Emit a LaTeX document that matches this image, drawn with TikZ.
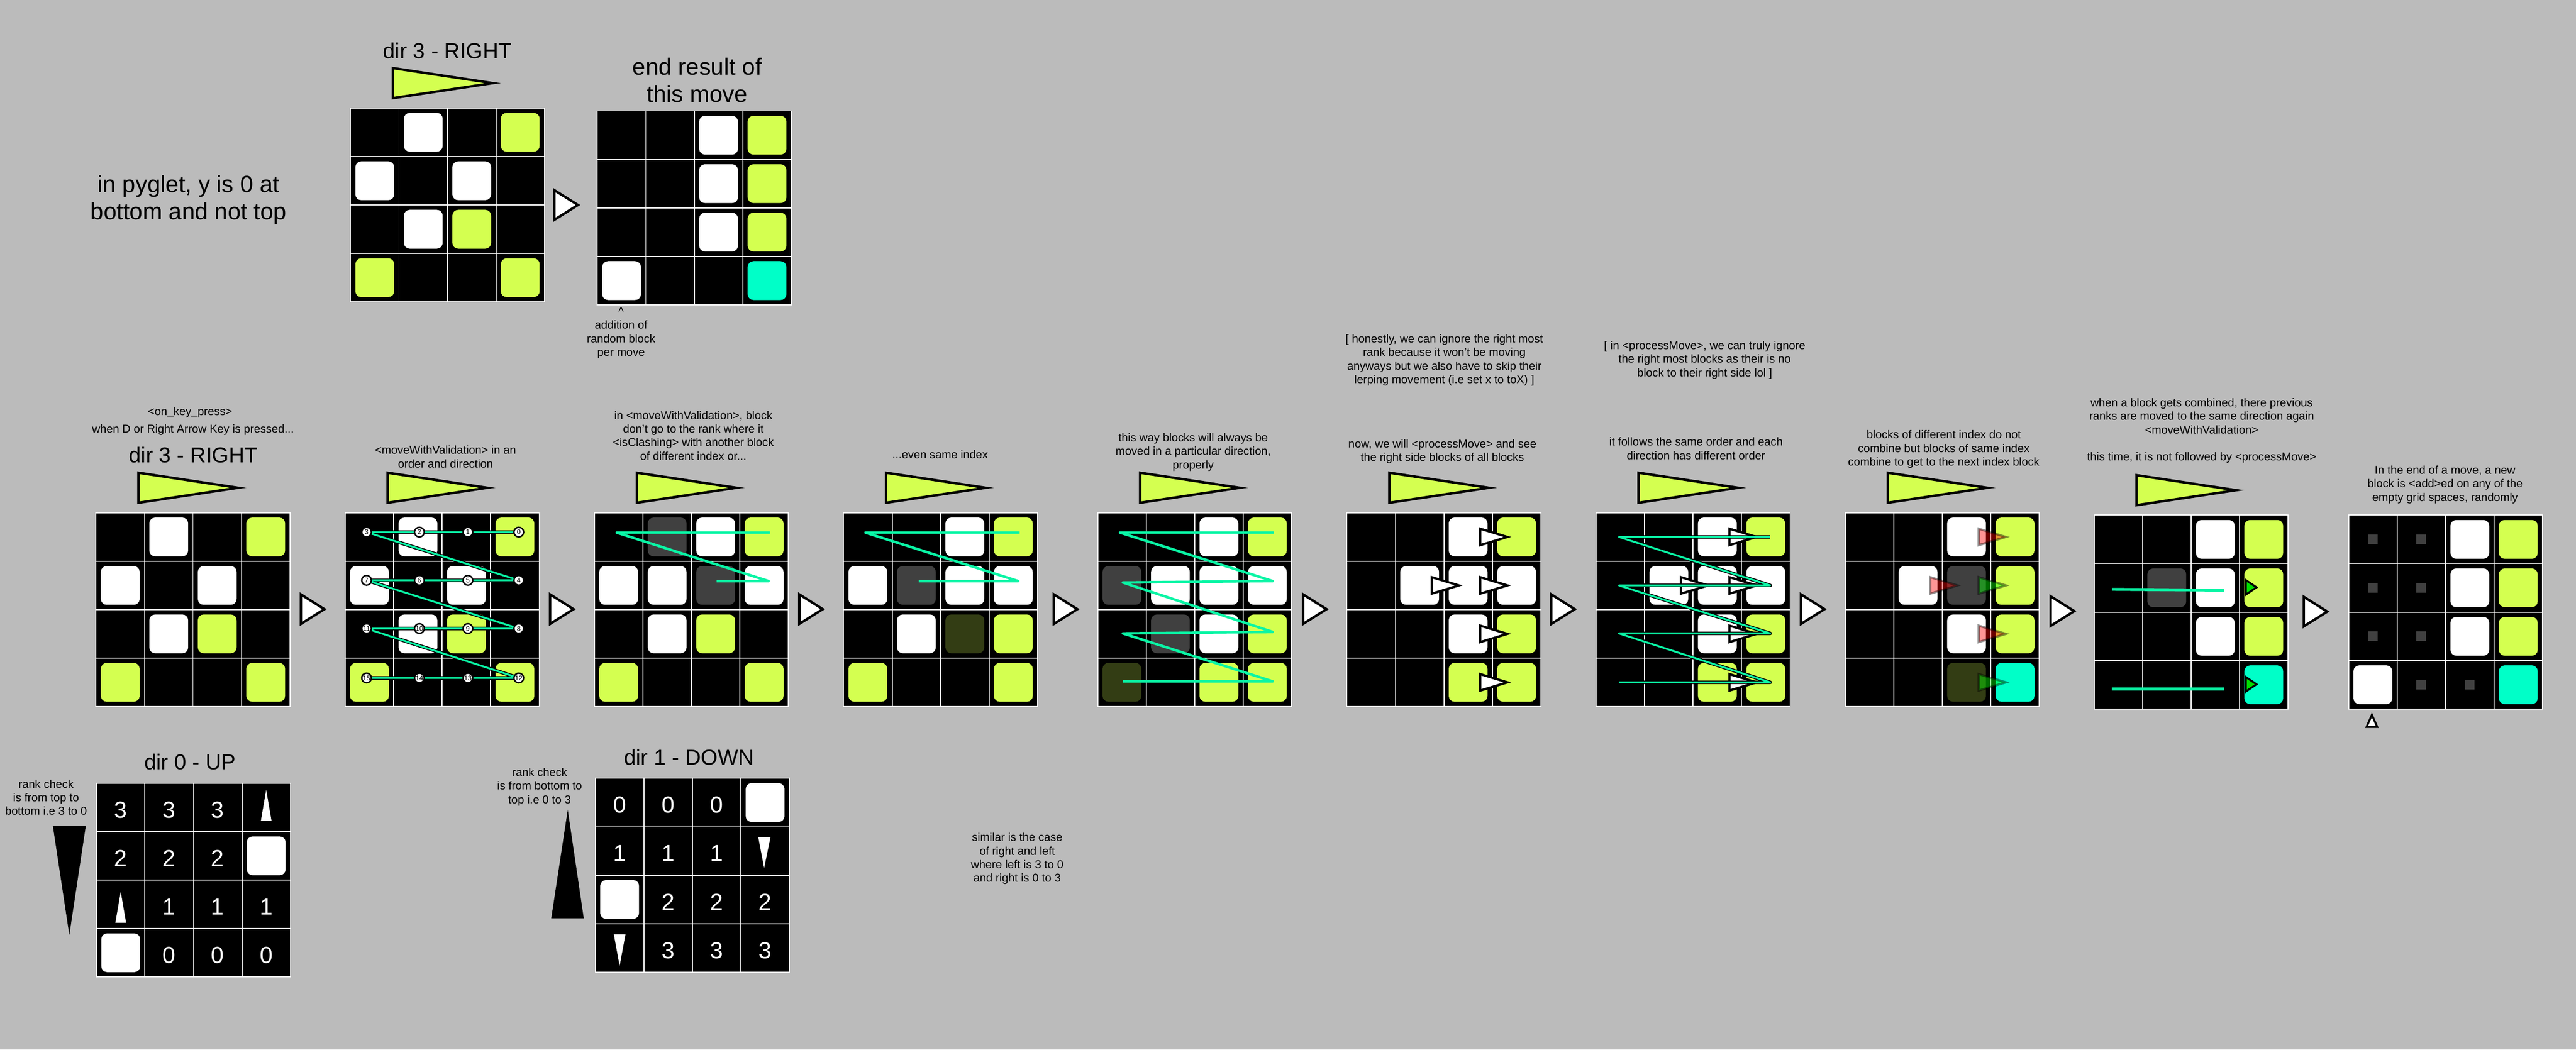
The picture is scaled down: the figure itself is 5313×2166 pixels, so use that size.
\documentclass[tikz,border=0pt]{standalone}
\usepackage{fontspec}
\setmainfont{Liberation Sans}
\definecolor{bgc}{RGB}{187,187,187}
\definecolor{limeB}{RGB}{212,255,80}
\definecolor{cyanB}{RGB}{0,255,200}
\definecolor{dgrayB}{RGB}{64,64,64}
\definecolor{oliveB}{RGB}{51,61,20}
\definecolor{grnL}{RGB}{10,245,165}
\definecolor{tgreen}{RGB}{0,220,0}
\tikzset{
  gridline/.style={draw=white, line width=1pt},
  limetri/.style={fill=limeB, draw=black, line width=2.5pt, line join=miter, miter limit=20},
  stepar/.style={fill=white, draw=black, line width=2.5pt, line join=miter},
  movear/.style={fill=white, draw=black, line width=2.3pt, line join=miter},
  redar/.style={fill=red, draw=black, line width=2.3pt, line join=miter, opacity=0.42},
  grnar/.style={fill=green, draw=black, line width=2.3pt, line join=miter, opacity=0.42},
  pathplain/.style={draw=grnL, line width=2.6pt, line join=round},
  pathouter/.style={draw=black, line width=3.6pt, line join=round},
  pathinner/.style={draw=grnL, line width=1.9pt, line join=round},
  numc/.style={circle, fill=white, draw=black, line width=1.5pt, inner sep=0pt, minimum size=10pt, font=\fontsize{7}{8}\selectfont},
  smallt/.style={inner sep=0pt, anchor=base, font=\fontsize{11.75}{14}\selectfont},
  bigt/.style={inner sep=0pt, anchor=base, font=\fontsize{22.35}{28}\selectfont},
  biggert/.style={inner sep=0pt, anchor=base, font=\fontsize{24.25}{28}\selectfont},
  digitt/.style={inner sep=0pt, text=white, font=\fontsize{24}{28}\selectfont},
  tgtri/.style={fill=tgreen, draw=black, line width=2pt, line join=miter},
  thintri/.style={fill=white},
  tallblack/.style={fill=black},
  markersq/.style={fill=dgrayB},
}
\newcommand\ml[1]{\begin{tabular}[t]{@{}c@{}}#1\end{tabular}}
\newcommand\gridbox[2]{%
  \fill[black] (#1,#2) rectangle ++(400,400);
  \foreach \k in {100,200,300}{\draw[gridline] ({#1+\k},#2) -- ++(0,400); \draw[gridline] (#1,{#2+\k}) -- ++(400,0);}
  \draw[gridline] (#1,#2) rectangle ++(400,400);}
\newcommand\blocks[3]{\foreach \bc/\br/\bcl in {#3}{\fill[fill=\bcl, rounded corners=6pt] ({#1+100*\bc+10},{#2+100*\br+10}) rectangle ++(80,80);}}
\newcommand\limeTri[2]{\draw[limetri] ({#1+87.5},{#2-82.5}) -- ({#1+87.5},{#2-20.5}) -- ({#1+293},{#2-51.5}) -- cycle;}
\newcommand\stepArrow[2]{\draw[stepar] ({#1+2.5},{#2-30.5}) -- ({#1+2.5},{#2+30.5}) -- ({#1+51},#2) -- cycle;}
\newcommand\moveArrow[3]{\draw[#3] ({#1-25},{#2-17}) -- ({#1-25},{#2+17}) -- ({#1+31},#2) -- cycle;}
\begin{document}
\begin{tikzpicture}[x=0.5pt,y=-0.5pt]
\fill[bgc] (0,0) rectangle (5313,2166);
\useasboundingbox (0,0) rectangle (5313,2166);

% ---------------- top part ----------------
\node[biggert] (tpyglet) at (389,397) {\ml{in pyglet, y is 0 at\\bottom and not top}};
\node[bigt] (tdirtop) at (923,121) {dir 3 - RIGHT};
\limeTri{723}{223}
\gridbox{723}{223}
\blocks{723}{223}{1/0/white,3/0/limeB,0/1/white,2/1/white,1/2/white,2/2/limeB,0/3/limeB,3/3/limeB}
\stepArrow{1141}{423}
\node[biggert] (tend) at (1438,155) {\ml{end result of\\this move}};
\gridbox{1232}{229}
\blocks{1232}{229}{2/0/white,3/0/limeB,2/1/white,3/1/limeB,2/2/white,3/2/limeB,0/3/white,3/3/cyanB}
\node[smallt] (tcaret) at (1281,651) {\textasciicircum};
\node[smallt] (tadd) at (1281,679) {\ml{addition of\\random block\\per move}};

% ---------------- panel A ----------------
\node[smallt] (tonkey) at (392,857) {<on\_key\_press>};
\node[smallt] (twhen) at (398,893) {when D or Right Arrow Key is pressed...};
\node[bigt] (tdira) at (399,955) {dir 3 - RIGHT};
\limeTri{198}{1058}
\gridbox{198}{1058}
\blocks{198}{1058}{1/0/white,3/0/limeB,0/1/white,2/1/white,1/2/white,2/2/limeB,0/3/limeB,3/3/limeB}
\stepArrow{618}{1257}

% ---------------- panel B ----------------
\node[smallt] (tb) at (919,937) {\ml{<moveWithValidation> in an\\order and direction}};
\limeTri{712}{1058}
\gridbox{712}{1058}
\blocks{712}{1058}{1/0/white,3/0/limeB,0/1/white,2/1/white,1/2/white,2/2/limeB,0/3/limeB,3/3/limeB}
\foreach \rr/\yy in {0/1098,1/1197.5,2/1297,3/1399}{
  \foreach \cc/\xx in {0/756,1/865,2/965,3/1070}{
    \pgfmathtruncatemacro\idx{4*\rr+3-\cc}
    \coordinate (b\idx) at (\xx,\yy);
  }
}
\draw[pathouter] (b0) -- (b1) -- (b2) -- (b3) -- (b4) -- (b5) -- (b6) -- (b7) -- (b8) -- (b9) -- (b10) -- (b11) -- (b12) -- (b13) -- (b14) -- (b15);
\draw[pathinner] (b0) -- (b1) -- (b2) -- (b3) -- (b4) -- (b5) -- (b6) -- (b7) -- (b8) -- (b9) -- (b10) -- (b11) -- (b12) -- (b13) -- (b14) -- (b15);
\foreach \i in {0,...,15}{\node[numc] (bn\i) at (b\i) {\i};}
\stepArrow{1132}{1257}

% ---------------- panel C ----------------
\node[smallt] (tc) at (1430,865) {\ml{in <moveWithValidation>, block\\don't go to the rank where it\\<isClashing> with another block\\of different index or...}};
\limeTri{1226}{1058}
\gridbox{1226}{1058}
\blocks{1226}{1058}{1/0/dgrayB,2/0/white,3/0/limeB,0/1/white,1/1/white,2/1/dgrayB,3/1/white,1/2/white,2/2/limeB,0/3/limeB,3/3/limeB}
\coordinate (c0) at (1588,1099); \coordinate (c1) at (1272,1099);
\coordinate (c2) at (1585,1199); \coordinate (c3) at (1478,1199);
\draw[pathplain] (c0) -- (c1) -- (c2) -- (c3);
\stepArrow{1646}{1257}

% ---------------- panel D ----------------
\node[smallt] (td) at (1939,946) {...even same index};
\limeTri{1740}{1058}
\gridbox{1740}{1058}
\blocks{1740}{1058}{2/0/white,3/0/limeB,0/1/white,1/1/dgrayB,2/1/white,3/1/white,1/2/white,2/2/oliveB,3/2/limeB,0/3/limeB,3/3/limeB}
\coordinate (d0) at (2103,1099); \coordinate (d1) at (1785,1099);
\coordinate (d2) at (2100,1199); \coordinate (d3) at (1895,1199);
\draw[pathplain] (d0) -- (d1) -- (d2) -- (d3);
\stepArrow{2171}{1257}

% ---------------- panel E ----------------
\node[smallt] (te) at (2461,911) {\ml{this way blocks will always be\\moved in a particular direction,\\properly}};
\limeTri{2264}{1058}
\gridbox{2264}{1058}
\blocks{2264}{1058}{2/0/white,3/0/limeB,0/1/dgrayB,1/1/white,2/1/white,3/1/white,1/2/dgrayB,2/2/white,3/2/limeB,0/3/oliveB,2/3/limeB,3/3/limeB}
\coordinate (e0) at (2627,1099); \coordinate (e1) at (2310,1099);
\coordinate (e2) at (2625,1199); \coordinate (e3) at (2316,1202);
\coordinate (e4) at (2625,1304); \coordinate (e5) at (2316,1307);
\coordinate (e6) at (2625,1406); \coordinate (e7) at (2316,1406);
\draw[pathplain] (e0) -- (e1) -- (e2) -- (e3) -- (e4) -- (e5) -- (e6) -- (e7);
\stepArrow{2685}{1257}

% ---------------- panel F ----------------
\node[smallt] (tfb) at (2979,707) {\ml{[ honestly, we can ignore the right most\\rank because it won't be moving\\anyways but we also have to skip their\\lerping movement (i.e set x to toX) ]}};
\node[smallt] (tf) at (2975,924) {\ml{now, we will <processMove> and see\\the right side blocks of all blocks}};
\limeTri{2778}{1058}
\gridbox{2778}{1058}
\blocks{2778}{1058}{2/0/white,3/0/limeB,1/1/white,2/1/white,3/1/white,2/2/white,3/2/limeB,2/3/limeB,3/3/limeB}
\moveArrow{3078}{1108}{movear}
\moveArrow{2978}{1208}{movear}
\moveArrow{3078}{1208}{movear}
\moveArrow{3078}{1308}{movear}
\moveArrow{3078}{1408}{movear}
\stepArrow{3197}{1257}

% ---------------- panel G ----------------
\node[smallt] (tgb) at (3516,721) {\ml{[ in <processMove>, we can truly ignore\\the right most blocks as their is no\\block to their right side lol ]}};
\node[smallt] (tg) at (3498,920) {\ml{it follows the same order and each\\direction has different order}};
\limeTri{3292}{1058}
\gridbox{3292}{1058}
\blocks{3292}{1058}{2/0/white,3/0/limeB,1/1/white,2/1/white,3/1/white,2/2/white,3/2/limeB,2/3/limeB,3/3/limeB}
\moveArrow{3592}{1108}{movear}
\moveArrow{3492}{1208}{movear}
\moveArrow{3592}{1208}{movear}
\moveArrow{3592}{1308}{movear}
\moveArrow{3592}{1408}{movear}
\coordinate (g0) at (3651,1108); \coordinate (g1) at (3339,1108);
\coordinate (g2) at (3651,1208); \coordinate (g3) at (3339,1208);
\coordinate (g4) at (3651,1307); \coordinate (g5) at (3339,1307);
\coordinate (g6) at (3651,1408); \coordinate (g7) at (3339,1408);
\draw[pathouter] (g0) -- (g1) -- (g2) -- (g3) -- (g4) -- (g5) -- (g6) -- (g7);
\draw[pathinner] (g0) -- (g1) -- (g2) -- (g3) -- (g4) -- (g5) -- (g6) -- (g7);
\stepArrow{3712}{1257}

% ---------------- panel H ----------------
\node[smallt] (th) at (4009,905) {\ml{blocks of different index do not\\combine but blocks of same index\\combine to get to the next index block}};
\limeTri{3806}{1058}
\gridbox{3806}{1058}
\blocks{3806}{1058}{2/0/white,3/0/limeB,1/1/white,2/1/dgrayB,3/1/limeB,2/2/white,3/2/limeB,2/3/oliveB,3/3/cyanB}
\moveArrow{4106}{1108}{redar}
\moveArrow{4006}{1208}{redar}
\moveArrow{4106}{1208}{grnar}
\moveArrow{4106}{1308}{redar}
\moveArrow{4106}{1408}{grnar}
\stepArrow{4227}{1261}

% ---------------- panel I ----------------
\node[smallt] (ti) at (4541,839) {\ml{when a block gets combined, there previous\\ranks are moved to the same direction again\\<moveWithValidation>\\ \\this time, it is not followed by <processMove>}};
\limeTri{4319}{1063}
\gridbox{4319}{1063}
\blocks{4319}{1063}{2/0/white,3/0/limeB,1/1/dgrayB,2/1/white,3/1/limeB,2/2/white,3/2/limeB,3/3/cyanB}
\coordinate (i0) at (4356,1216); \coordinate (i1) at (4587,1218);
\coordinate (i2) at (4356,1422); \coordinate (i3) at (4587,1422);
\draw[pathplain, line width=3pt] (i0) -- (i1);
\draw[pathplain, line width=3pt] (i2) -- (i3);
\draw[tgtri] (4632,1197) -- (4632,1227) -- (4654,1212) -- cycle;
\draw[tgtri] (4632,1397) -- (4632,1427) -- (4654,1412) -- cycle;
\stepArrow{4749}{1262}

% ---------------- panel J ----------------
\node[smallt] (tj) at (5043,978) {\ml{In the end of a move, a new\\block is <add>ed on any of the\\empty grid spaces, randomly}};
\gridbox{4844}{1063}
\blocks{4844}{1063}{2/0/white,3/0/limeB,2/1/white,3/1/limeB,2/2/white,3/2/limeB,0/3/white,3/3/cyanB}
\foreach \bc/\br in {0/0,1/0,0/1,1/1,0/2,1/2,1/3,2/3}{\fill[markersq] ({4844+100*\bc+40},{1063+100*\br+40}) rectangle ++(20,20);}
\draw[fill=white, draw=black, line width=2pt, line join=miter] (4892,1475) -- (4881,1500) -- (4903,1500) -- cycle;

% ---------------- bottom: UP ----------------
\node[bigt] (tup) at (392,1588) {dir 0 - UP};
\node[smallt] (trankup) at (95,1626) {\ml{rank check\\is from top to\\bottom i.e 3 to 0}};
\fill[tallblack] (109,1704) -- (177,1704) -- (143,1929) -- cycle;
\gridbox{199}{1616}
\blocks{199}{1616}{3/1/white,0/3/white}
\foreach \cc/\rr/\dd in {0/0/3,1/0/3,2/0/3,0/1/2,1/1/2,2/1/2,1/2/1,2/2/1,3/2/1,1/3/0,2/3/0,3/3/0}{
  \node[digitt] (up\cc\rr) at ({249+100*\cc},{1671+100*\rr}) {\dd};}
\fill[thintri] (538,1694) -- (560,1694) -- (549,1630) -- cycle;
\fill[thintri] (238,1904) -- (260,1904) -- (249,1840) -- cycle;

% ---------------- bottom: DOWN ----------------
\node[bigt] (tdown) at (1421,1579) {dir 1 - DOWN};
\node[smallt] (trankdown) at (1113,1602) {\ml{rank check\\is from bottom to\\top i.e 0 to 3}};
\fill[tallblack] (1171,1671) -- (1137,1895) -- (1204,1895) -- cycle;
\gridbox{1228}{1606}
\blocks{1228}{1606}{3/0/white,0/2/white}
\foreach \cc/\rr/\dd in {0/0/0,1/0/0,2/0/0,0/1/1,1/1/1,2/1/1,1/2/2,2/2/2,3/2/2,1/3/3,2/3/3,3/3/3}{
  \node[digitt] (dn\cc\rr) at ({1278+100*\cc},{1661+100*\rr}) {\dd};}
\fill[thintri] (1564,1728) -- (1589,1728) -- (1576,1791) -- cycle;
\fill[thintri] (1266,1928) -- (1290,1928) -- (1278,1993) -- cycle;

% ---------------- bottom middle text ----------------
\node[smallt] (tsimilar) at (2098,1736) {\ml{similar is the case\\of right and left\\where left is 3 to 0\\and right is 0 to 3}};
\end{tikzpicture}
\end{document}
